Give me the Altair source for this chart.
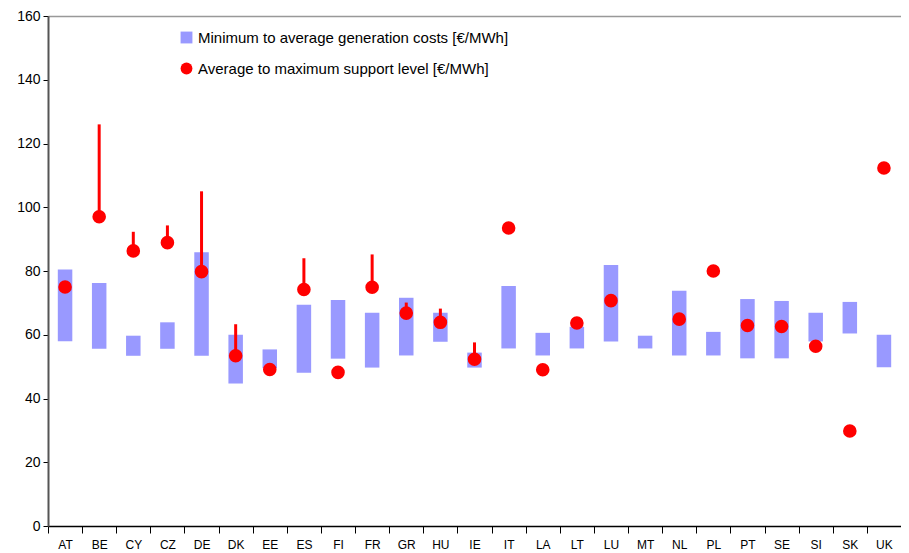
import altair as alt
import pandas as pd

countries = ["AT", "BE", "CY", "CZ", "DE", "DK", "EE", "ES", "FI", "FR", "GR", "HU", "IE",
             "IT", "LA", "LT", "LU", "MT", "NL", "PL", "PT", "SE", "SI", "SK", "UK"]
gen_min = [58.0, 55.6, 53.4, 55.6, 53.4, 44.7, 49.5, 48.1, 52.5, 49.7, 53.5, 57.8, 49.7,
           55.7, 53.5, 55.7, 57.9, 55.7, 53.5, 53.5, 52.6, 52.6, 57.9, 60.4, 49.8]
gen_avg = [80.5, 76.2, 59.7, 63.9, 85.9, 60.0, 55.4, 69.4, 70.9, 66.9, 71.6, 66.9, 54.4,
           75.3, 60.6, 62.5, 81.9, 59.7, 73.8, 60.9, 71.2, 70.6, 66.9, 70.3, 60.0]
sup_avg = [75.0, 97.0, 86.3, 88.9, 79.8, 53.4, 49.1, 74.2, 48.2, 74.9, 66.8, 63.9, 52.3,
           93.5, 49.0, 63.7, 70.7, None, 64.9, 80.0, 62.9, 62.6, 56.4, 29.8, 112.3]
sup_max = [None, 126.0, 92.3, 94.3, 105.0, 63.3, None, 84.0, None, 85.2, 70.1, 68.2, 57.6,
           None, None, None, None, None, None, None, None, None, None, None, None]

S1 = "Minimum to average generation costs [€/MWh]"
S2 = "Average to maximum support level [€/MWh]"

bars = pd.DataFrame({"country": countries, "lo": gen_min, "hi": gen_avg, "series": S1})
pts = pd.DataFrame({"country": countries, "avg": sup_avg, "max": sup_max, "series": S2})
pts_valid = pts.dropna(subset=["avg"])
rules = pts.dropna(subset=["max"])

FONT = "Liberation Sans"
x_enc = alt.X("country:N", sort=countries, title=None,
              scale=alt.Scale(paddingInner=0, paddingOuter=0),
              axis=alt.Axis(labelAngle=0, tickBand="extent", tickSize=7, tickColor="black",
                            domainColor="black", domainWidth=1.5, labelFontSize=12,
                            labelPadding=6, labelColor="black", labelFont=FONT, grid=False))
y_scale = alt.Scale(domain=[0, 160], nice=False)
y_axis = alt.Axis(values=list(range(0, 161, 20)), title=None, tickSize=5, tickColor="black",
                  domainColor="#555555", domainWidth=2, labelFontSize=14, labelFont=FONT,
                  labelColor="black", labelPadding=3, grid=True, gridColor="#999999",
                  gridWidth=1.5, gridOpacity=alt.ExprRef("datum.value == 160 ? 1 : 0"))

color_scale = alt.Scale(domain=[S1, S2], range=["#9999FF", "#FF0000"])
shape_scale = alt.Scale(domain=[S1, S2], range=["square", "circle"])
legend = alt.Legend(title=None, orient="none", legendX=131, legendY=14, labelFontSize=15,
                    labelFont=FONT, labelColor="black", symbolSize=140, symbolStrokeWidth=0,
                    rowPadding=15, labelOffset=4, symbolOpacity=1, labelLimit=0)

bar_layer = alt.Chart(bars).mark_bar(size=14.5).encode(
    x=x_enc,
    y=alt.Y("lo:Q", scale=y_scale, axis=y_axis),
    y2="hi:Q",
    color=alt.Color("series:N", scale=color_scale, legend=legend),
    shape=alt.Shape("series:N", scale=shape_scale, legend=legend),
)

rule_layer = alt.Chart(rules).mark_rule(color="#FF0000", strokeWidth=3).encode(
    x=alt.X("country:N", sort=countries),
    y=alt.Y("avg:Q", scale=y_scale),
    y2="max:Q",
)

pt_layer = alt.Chart(pts_valid).mark_point(filled=True, size=185, opacity=1).encode(
    x=alt.X("country:N", sort=countries),
    y=alt.Y("avg:Q", scale=y_scale),
    color=alt.Color("series:N", scale=color_scale, legend=legend),
    shape=alt.Shape("series:N", scale=shape_scale, legend=legend),
)

chart = alt.layer(bar_layer, rule_layer, pt_layer).properties(
    width=853, height=510,
    autosize=alt.AutoSizeParams(type="none"),
    padding={"left": 40, "top": 8, "right": 0, "bottom": 27},
).configure_view(stroke=None)

chart.save("out.html", embed_options={"renderer": "svg", "actions": False})
